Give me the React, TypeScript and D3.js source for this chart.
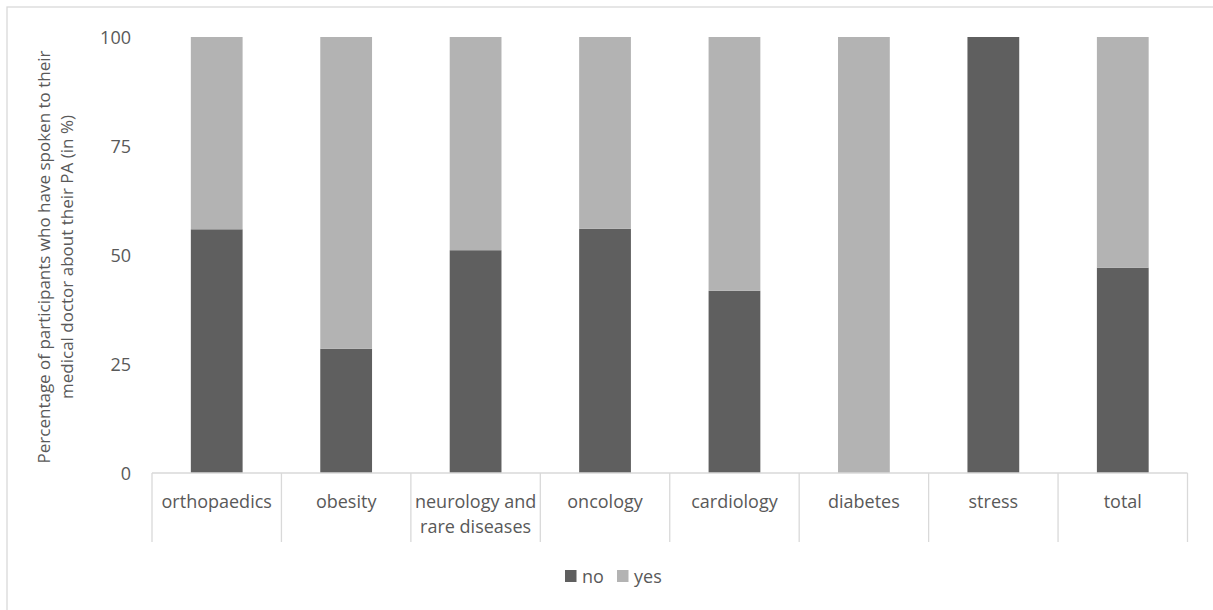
import React from "react";
import * as d3 from "d3";

const categories: string[][] = [
  ["orthopaedics"],
  ["obesity"],
  ["neurology and", "rare diseases"],
  ["oncology"],
  ["cardiology"],
  ["diabetes"],
  ["stress"],
  ["total"],
];
const noValues = [55.9, 28.5, 51.1, 56.0, 41.8, 0, 100, 47.1];
const yesValues = noValues.map((v) => 100 - v);
const yTicks = [0, 25, 50, 75, 100];
const seriesNames = ["no", "yes"];
const seriesColors = ["#5f5f5f", "#b3b3b3"];
const yTitle = [
  "Percentage of participants who have spoken to their",
  "medical doctor about their PA (in %)",
];

const W = 1213;
const H = 610;
const FONT = "'Open Sans', sans-serif";
const TEXT = "#595959";
const LINE = "#d9d9d9";
const FS = 18;

export default function App() {
  const left = 152;
  const right = 1187.5;
  const top = 37;
  const bottom = 473;

  const keys = categories.map((_, i) => String(i));
  const x = d3.scaleBand<string>().domain(keys).range([left, right]).paddingInner(0.6).paddingOuter(0.3);
  const xCat = d3.scaleBand<string>().domain(keys).range([left, right]);
  const y = d3.scaleLinear().domain([0, 100]).range([bottom, top]);

  const rows = keys.map((k, i) => ({ key: k, no: noValues[i], yes: yesValues[i] }));
  const stacked = d3.stack<any>().keys(seriesNames)(rows);

  return (
    <svg width={W} height={H} style={{ position: "absolute", left: 0, top: 0 }} fontFamily={FONT}>
      <rect x={0} y={0} width={W} height={H} fill="#fff" />
      <rect x={7} y={7} width={W + 20} height={H + 20} fill="none" stroke={LINE} strokeWidth={1.3} />

      {stacked.map((s, si) =>
        s.map((d, i) =>
          d[1] - d[0] > 0 ? (
            <rect
              key={`${si}-${i}`}
              x={x(keys[i])}
              width={x.bandwidth()}
              y={y(d[1])}
              height={y(d[0]) - y(d[1])}
              fill={seriesColors[si]}
            />
          ) : null
        )
      )}

      {/* category axis with separators */}
      <line x1={left} x2={right} y1={bottom} y2={bottom} stroke={LINE} strokeWidth={1.3} />
      {keys.concat(["end"]).map((k, i) => {
        const xx = i < keys.length ? (xCat(k) as number) : right;
        return <line key={k} x1={xx} x2={xx} y1={bottom} y2={542} stroke={LINE} strokeWidth={1.3} />;
      })}
      {categories.map((lines, i) => (
        <text key={i} textAnchor="middle" fontSize={FS} fill={TEXT}>
          {lines.map((ln, j) => (
            <tspan key={j} x={(xCat(keys[i]) as number) + xCat.bandwidth() / 2} y={508 + j * 25}>
              {ln}
            </tspan>
          ))}
        </text>
      ))}

      {/* value axis labels */}
      {yTicks.map((t) => (
        <text key={t} x={131} y={y(t) + 6.5} textAnchor="end" fontSize={FS} fill={TEXT}>
          {t}
        </text>
      ))}

      <text transform={`translate(50, ${(top + bottom) / 2 + 2}) rotate(-90)`} textAnchor="middle" fontSize={17} fill={TEXT}>
        {yTitle[0]}
      </text>
      <text transform={`translate(73, ${(top + bottom) / 2 + 2}) rotate(-90)`} textAnchor="middle" fontSize={17} fill={TEXT}>
        {yTitle[1]}
      </text>

      {/* legend */}
      {seriesNames.map((n, i) => {
        const lx = 565 + i * 52;
        return (
          <g key={n}>
            <rect x={lx} y={570} width={11.5} height={12} fill={seriesColors[i]} />
            <text x={lx + 17} y={582.5} fontSize={FS} fill={TEXT}>
              {n}
            </text>
          </g>
        );
      })}
    </svg>
  );
}
